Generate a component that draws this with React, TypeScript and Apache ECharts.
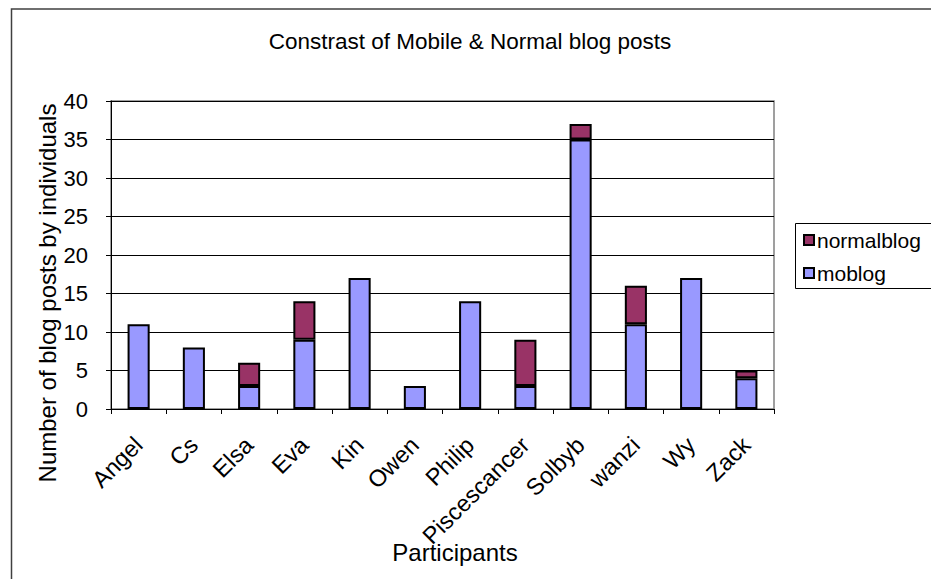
import React, { useEffect, useRef } from "react";
import * as echarts from "echarts";

const categories = ["Angel", "Cs", "Elsa", "Eva", "Kin", "Owen", "Philip", "Piscescancer", "Solbyb", "wanzi", "Wy", "Zack"];
const moblog = [11, 8, 3, 9, 17, 3, 14, 3, 35, 11, 17, 4];
const normalblog = [0, 0, 3, 5, 0, 0, 0, 6, 2, 5, 0, 1];
const yTicks = { min: 0, max: 40, interval: 5 };

const FONT = "Liberation Sans, Arial, sans-serif";

export default function App() {
  const ref = useRef<HTMLDivElement>(null);
  useEffect(() => {
    if (!ref.current) return;
    const chart = echarts.init(ref.current, undefined, { renderer: "svg" });
    const nz = (a: number[]) => a.map((v) => (v === 0 ? null : v));
    chart.setOption({
      animation: false,
      backgroundColor: "#ffffff",
      textStyle: { fontFamily: FONT, color: "#000" },
      title: {
        text: "Constrast of Mobile & Normal blog posts",
        left: 465,
        textAlign: "center",
        top: 25,
        textStyle: { fontFamily: FONT, fontSize: 22.5, fontWeight: "normal", color: "#000" },
      },
      grid: {
        left: 111,
        right: 157,
        top: 101,
        bottom: 170,
        show: true,
        borderColor: "#808080",
        borderWidth: 1.5,
        backgroundColor: "transparent",
      },
      legend: {
        orient: "vertical",
        left: 803,
        top: 229,
        padding: 0,
        itemWidth: 10,
        itemHeight: 10,
        itemGap: 11,
        icon: "rect",
        data: ["normalblog", "moblog"],
        itemStyle: { borderColor: "#000", borderWidth: 2 },
        textStyle: { fontFamily: FONT, fontSize: 21, color: "#000", lineHeight: 22, padding: [0, 0, 0, -2] },
      },
      xAxis: {
        type: "category",
        data: categories,
        axisLine: { lineStyle: { color: "#000", width: 1 } },
        axisTick: { show: true, length: 5, lineStyle: { color: "#000" } },
        axisLabel: { interval: 0, rotate: 45, fontSize: 23.5, color: "#000", fontFamily: FONT, margin: 32 },
      },
      yAxis: {
        type: "value",
        min: yTicks.min,
        max: yTicks.max,
        interval: yTicks.interval,
        axisLine: { show: true, lineStyle: { color: "#000", width: 1 } },
        axisTick: { show: true, length: 5, lineStyle: { color: "#000" } },
        axisLabel: { fontSize: 22, color: "#000", fontFamily: FONT, margin: 23 },
        splitLine: { lineStyle: { color: "#000", width: 1 } },
      },
      graphic: [
        {
          type: "rect",
          shape: { x: 11.5, y: 9, width: 1000, height: 700 },
          style: { fill: "none", stroke: "#404040", lineWidth: 1.5 },
          silent: true,
        },
        {
          type: "rect",
          shape: { x: 795.5, y: 223.5, width: 200, height: 65 },
          style: { fill: "#fff", stroke: "#000", lineWidth: 1 },
          silent: true,
          z: -1,
        },
        {
          type: "text",
          x: 47,
          y: 293,
          rotation: Math.PI / 2,
          style: {
            text: "Number of blog posts by individuals",
            fontFamily: FONT,
            fontSize: 24,
            fill: "#000",
            align: "center",
            verticalAlign: "middle",
          },
          silent: true,
        },
        {
          type: "text",
          x: 455,
          y: 552,
          style: {
            text: "Participants",
            fontFamily: FONT,
            fontSize: 24,
            fill: "#000",
            align: "center",
            verticalAlign: "middle",
          },
          silent: true,
        },
      ],
      series: [
        {
          name: "moblog",
          type: "bar",
          stack: "total",
          data: nz(moblog),
          barWidth: "40%",
          itemStyle: { color: "#9999FF", borderColor: "#000", borderWidth: 2 },
        },
        {
          name: "normalblog",
          type: "bar",
          stack: "total",
          data: nz(normalblog),
          barWidth: "40%",
          itemStyle: { color: "#993366", borderColor: "#000", borderWidth: 2 },
        },
      ],
    });
    return () => chart.dispose();
  }, []);
  return <div ref={ref} style={{ position: "fixed", left: 0, top: 0, width: 931, height: 579 }} />;
}
